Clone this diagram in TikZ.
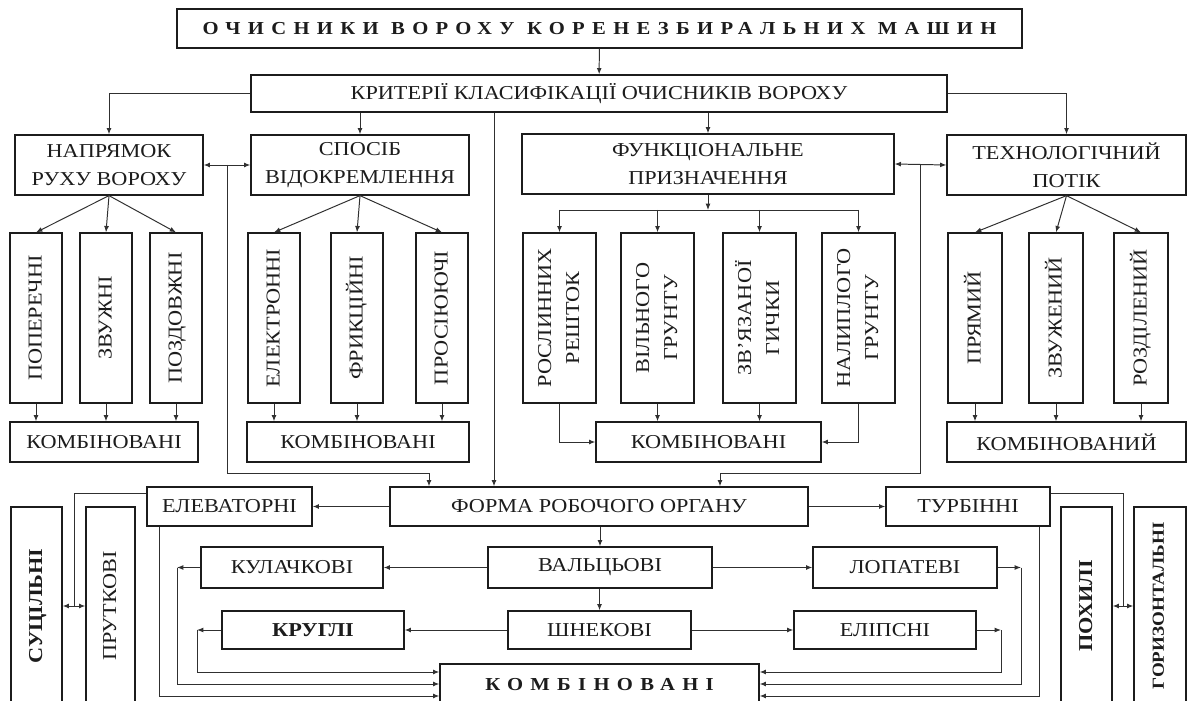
\documentclass[tikz,border=0pt]{standalone}
\usepackage{fontspec}
\setmainfont{Liberation Serif}[FakeStretch=1.13]
\newfontfamily\dgspaced{Liberation Serif}[FakeStretch=1.13,LetterSpace=40]
\usepackage{graphicx}
\usetikzlibrary{arrows.meta,calc}
\definecolor{dgink}{HTML}{1C1C1C}
\definecolor{dgwire}{HTML}{303030}
\newdimen\px \px=0.025cm
\newcommand{\vlab}[1]{\rotatebox{90}{\begin{tabular}{@{}c@{}}#1\end{tabular}}}
\tikzset{
  dgbox/.style  ={rectangle, draw=dgink, line width=0.9pt, fill=white, align=center,
                  inner sep=1pt, text=dgink, font=\fontsize{14}{20}\selectfont},
  dgvert/.style ={dgbox, inner sep=0pt},
  dgtitle/.style={dgbox, font=\dgspaced\bfseries\fontsize{13}{15}\selectfont},
  dgarrow/.style={-{Latex[length=4.5pt,width=3.5pt]}, line width=0.7pt, draw=dgwire},
  dgboth/.style ={{Latex[length=4.5pt,width=3.5pt]}-{Latex[length=4.5pt,width=3.5pt]},
                  line width=0.7pt, draw=dgwire},
  dgline/.style ={line width=0.7pt, draw=dgwire},
}
\begin{document}
\begin{tikzpicture}[x=0.025cm, y=-0.025cm]
  \clip (0,0) rectangle (1197,701);
  \fill[white] (0,0) rectangle (1197,701);
  % heading and criteria
  \node[dgtitle, minimum width=845\px, minimum height=39\px] (title) at (599.5,28.5)
       {ОЧИСНИКИ ВОРОХУ КОРЕНЕЗБИРАЛЬНИХ МАШИН};
  \node[dgbox, minimum width=696\px, minimum height=37\px] (crit) at (599,93.5)
       {КРИТЕРІЇ КЛАСИФІКАЦІЇ ОЧИСНИКІВ ВОРОХУ};
  \node[dgbox, minimum width=188\px, minimum height=60\px] (nap) at (109,165) {НАПРЯМОК\\РУХУ ВОРОХУ};
  \node[dgbox, minimum width=218\px, minimum height=60\px] (spos) at (360,165) {СПОСІБ\\ВІДОКРЕМЛЕННЯ};
  \node[dgbox, minimum width=372\px, minimum height=60\px] (func) at (708,164) {ФУНКЦІОНАЛЬНЕ\\ПРИЗНАЧЕННЯ};
  \node[dgbox, minimum width=239\px, minimum height=60\px] (tech) at (1066.5,165) {ТЕХНОЛОГІЧНИЙ\\ПОТІК};
  % vertical boxes of the four groups
  \node[dgvert, minimum width=52\px, minimum height=170\px] (n1) at (36,318) {\vlab{ПОПЕРЕЧНІ}};
  \node[dgvert, minimum width=52\px, minimum height=170\px] (n2) at (106,318) {\vlab{ЗВУЖНІ}};
  \node[dgvert, minimum width=52\px, minimum height=170\px] (n3) at (176,318) {\vlab{ПОЗДОВЖНІ}};
  \node[dgvert, minimum width=52\px, minimum height=170\px] (s1) at (274,318) {\vlab{ЕЛЕКТРОННІ}};
  \node[dgvert, minimum width=52\px, minimum height=170\px] (s2) at (357,318) {\vlab{ФРИКЦІЙНІ}};
  \node[dgvert, minimum width=52\px, minimum height=170\px] (s3) at (442,318) {\vlab{ПРОСІЮЮЧІ}};
  \node[dgvert, minimum width=73\px, minimum height=170\px] (f1) at (559.5,318) {\vlab{РОСЛИННИХ\\РЕШТОК}};
  \node[dgvert, minimum width=73\px, minimum height=170\px] (f2) at (657.5,318) {\vlab{ВІЛЬНОГО\\ГРУНТУ}};
  \node[dgvert, minimum width=73\px, minimum height=170\px] (f3) at (759.5,318) {\vlab{ЗВ'ЯЗАНОЇ\\ГИЧКИ}};
  \node[dgvert, minimum width=73\px, minimum height=170\px] (f4) at (858.5,318) {\vlab{НАЛИПЛОГО\\ГРУНТУ}};
  \node[dgvert, minimum width=54\px, minimum height=170\px] (t1) at (975,318) {\vlab{ПРЯМИЙ}};
  \node[dgvert, minimum width=54\px, minimum height=170\px] (t2) at (1056,318) {\vlab{ЗВУЖЕНИЙ}};
  \node[dgvert, minimum width=54\px, minimum height=170\px] (t3) at (1141,318) {\vlab{РОЗДІЛЕНИЙ}};
  % combined boxes
  \node[dgbox, minimum width=188\px, minimum height=40\px] (kn) at (104,442) {КОМБІНОВАНІ};
  \node[dgbox, minimum width=222\px, minimum height=40\px] (ks) at (358,442) {КОМБІНОВАНІ};
  \node[dgbox, minimum width=225\px, minimum height=40\px] (kf) at (708.5,442) {КОМБІНОВАНІ};
  \node[dgbox, minimum width=239\px, minimum height=40\px] (kt) at (1066.5,442) {КОМБІНОВАНИЙ};
  % working organ
  \node[dgbox, minimum width=418\px, minimum height=39\px] (forma) at (599,506.5) {ФОРМА РОБОЧОГО ОРГАНУ};
  \node[dgbox, minimum width=165\px, minimum height=39\px] (elev) at (229.5,506.5) {ЕЛЕВАТОРНІ};
  \node[dgbox, minimum width=164\px, minimum height=39\px] (turb) at (968,506.5) {ТУРБІННІ};
  \node[dgbox, minimum width=224\px, minimum height=41\px] (val) at (600,567.5) {ВАЛЬЦЬОВІ};
  \node[dgbox, minimum width=182\px, minimum height=41\px] (kul) at (292,567.5) {КУЛАЧКОВІ};
  \node[dgbox, minimum width=184\px, minimum height=41\px] (lop) at (905,567.5) {ЛОПАТЕВІ};
  \node[dgbox, minimum width=183\px, minimum height=38\px] (shn) at (599.5,630) {ШНЕКОВІ};
  \node[dgbox, minimum width=182\px, minimum height=38\px] (kru) at (313,630) {\textbf{КРУГЛІ}};
  \node[dgbox, minimum width=182\px, minimum height=38\px] (eli) at (885,630) {ЕЛІПСНІ};
  \node[dgtitle, minimum width=319\px, minimum height=42\px] (kb) at (599.5,685) {КОМБІНОВАНІ};
  \node[dgvert, minimum width=51\px, minimum height=198\px] (sut) at (36.5,606) {\vlab{\textbf{СУЦІЛЬНІ}}};
  \node[dgvert, minimum width=49\px, minimum height=198\px] (pru) at (110.5,606) {\vlab{ПРУТКОВІ}};
  \node[dgvert, minimum width=51\px, minimum height=198\px] (poh) at (1086.5,606) {\vlab{\textbf{ПОХИЛІ}}};
  \node[dgvert, minimum width=52\px, minimum height=198\px, font=\fontsize{12}{14}\selectfont] (hor)
       at (1160,606) {\vlab{\textbf{ГОРИЗОНТАЛЬНІ}}};
  % helper points
  \coordinate (vcrit) at (494,0);
  \coordinate (jl) at (429,473);
  \coordinate (jr) at (720,473);
  \coordinate (bar) at (0,210);
  \coordinate (elx) at (159,0);
  \coordinate (tux) at (1039,0);
  \coordinate (kulc) at (177,567.5);
  \coordinate (kruc) at (197,630);
  \coordinate (lopc) at (1021,567.5);
  \coordinate (elic) at (1001,630);
  \coordinate (k1) at (0,672);
  \coordinate (k2) at (0,684);
  \coordinate (k3) at (0,696);
  \coordinate (elj) at (74,493);
  \coordinate (tuj) at (1123,493);
  \coordinate (sj) at (74,606);
  \coordinate (pj) at (1123,606);
  % upper connectors
  \draw[dgarrow] (title) -- (crit);
  \draw[dgarrow] (crit.west) -| (nap.north);
  \draw[dgarrow] (crit.south -| spos) -- (spos.north);
  \draw[dgarrow] (crit.south -| func) -- (func.north);
  \draw[dgarrow] (crit.east) -| (tech.north);
  \draw[dgarrow] (crit.south -| vcrit) -- (forma.north -| vcrit);
  \draw[dgboth] (nap.east) -- (spos.west);
  \draw[dgarrow] ($(nap.east)!0.5!(spos.west)$) |- (jl) -- (jl |- forma.north);
  \draw[dgboth] (func.east) -- (tech.west);
  \draw[dgarrow] ($(func.east)!0.5!(tech.west)$) |- (jr) -- (jr |- forma.north);
  % groups
  \draw[dgarrow] (nap.south) -- (n1.north);
  \draw[dgarrow] (nap.south) -- (n2.north);
  \draw[dgarrow] (nap.south) -- (n3.north);
  \draw[dgarrow] (spos.south) -- (s1.north);
  \draw[dgarrow] (spos.south) -- (s2.north);
  \draw[dgarrow] (spos.south) -- (s3.north);
  \draw[dgarrow] (tech.south) -- (t1.north);
  \draw[dgarrow] (tech.south) -- (t2.north);
  \draw[dgarrow] (tech.south) -- (t3.north);
  \draw[dgarrow] (func.south) -- (func.south |- bar);
  \draw[dgline] (f1.north |- bar) -- (f4.north |- bar);
  \draw[dgarrow] (f1.north |- bar) -- (f1.north);
  \draw[dgarrow] (f2.north |- bar) -- (f2.north);
  \draw[dgarrow] (f3.north |- bar) -- (f3.north);
  \draw[dgarrow] (f4.north |- bar) -- (f4.north);
  \draw[dgarrow] (n1.south) -- (n1.south |- kn.north);
  \draw[dgarrow] (n2.south) -- (n2.south |- kn.north);
  \draw[dgarrow] (n3.south) -- (n3.south |- kn.north);
  \draw[dgarrow] (s1.south) -- (s1.south |- ks.north);
  \draw[dgarrow] (s2.south) -- (s2.south |- ks.north);
  \draw[dgarrow] (s3.south) -- (s3.south |- ks.north);
  \draw[dgarrow] (f1.south) |- (kf.west);
  \draw[dgarrow] (f2.south) -- (f2.south |- kf.north);
  \draw[dgarrow] (f3.south) -- (f3.south |- kf.north);
  \draw[dgarrow] (f4.south) |- (kf.east);
  \draw[dgarrow] (t1.south) -- (t1.south |- kt.north);
  \draw[dgarrow] (t2.south) -- (t2.south |- kt.north);
  \draw[dgarrow] (t3.south) -- (t3.south |- kt.north);
  % working organ connectors
  \draw[dgarrow] (forma.west) -- (elev.east);
  \draw[dgarrow] (forma.east) -- (turb.west);
  \draw[dgarrow] (forma.south -| val) -- (val.north);
  \draw[dgarrow] (val.south -| shn) -- (shn.north);
  \draw[dgarrow] (val.west) -- (kul.east);
  \draw[dgarrow] (val.east) -- (lop.west);
  \draw[dgarrow] (shn.west) -- (kru.east);
  \draw[dgarrow] (shn.east) -- (eli.west);
  \draw[dgarrow] (kul.west) -- (kulc);
  \draw[dgarrow] (kulc) |- (kb.west |- k2);
  \draw[dgarrow] (kru.west) -- (kruc);
  \draw[dgarrow] (kruc) |- (kb.west |- k1);
  \draw[dgarrow] (elev.south -| elx) |- (kb.west |- k3);
  \draw[dgarrow] (lop.east) -- (lopc);
  \draw[dgarrow] (lopc) |- (kb.east |- k2);
  \draw[dgarrow] (eli.east) -- (elic);
  \draw[dgarrow] (elic) |- (kb.east |- k1);
  \draw[dgarrow] (turb.south -| tux) |- (kb.east |- k3);
  \draw[dgline] (elev.west |- elj) -- (elj) -- (sj);
  \draw[dgboth] (sut.east |- sj) -- (pru.west |- sj);
  \draw[dgline] (turb.east |- tuj) -- (tuj) -- (pj);
  \draw[dgboth] (poh.east |- pj) -- (hor.west |- pj);
\end{tikzpicture}
\end{document}
